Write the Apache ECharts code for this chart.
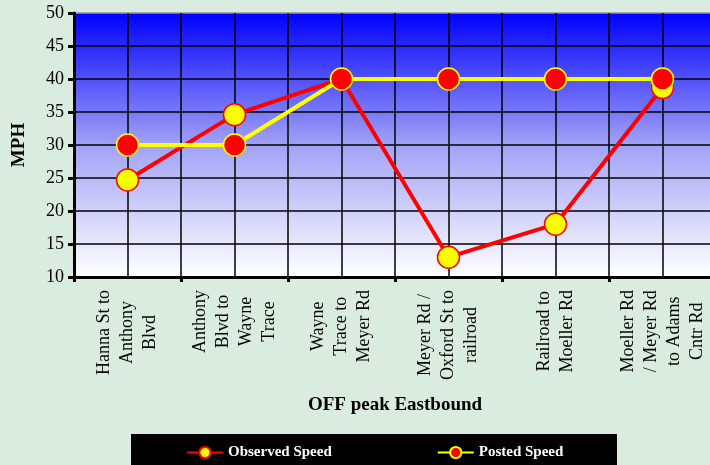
<!DOCTYPE html>
<html>
<head>
<meta charset="utf-8">
<script src="https://cdn.jsdelivr.net/npm/echarts@6/dist/echarts.min.js"></script>
<style>
  html, body { margin: 0; padding: 0; background: #d9ecdf; }
  #chart { width: 710px; height: 465px; }
</style>
</head>
<body>
<div id="chart"></div>
<script>
// segments along the route
const segments = [
  'Hanna St to\nAnthony\nBlvd',
  'Anthony\nBlvd to\nWayne\nTrace',
  'Wayne\nTrace to\nMeyer Rd',
  'Meyer Rd /\nOxford St to\nrailroad',
  'Railroad to\nMoeller Rd',
  'Moeller Rd\n/ Meyer Rd\nto Adams\nCntr Rd'
];
const observedSpeed = [24.7, 34.6, 40, 13, 18, 38.7];
const postedSpeed = [30, 30, 40, 40, 40, 40];

const serif = '"Liberation Serif", "DejaVu Serif", serif';
const chart = echarts.init(document.getElementById('chart'));

// top grid line is grey, others black
const hLineColors = ['#000', '#000', '#000', '#000', '#000', '#000', '#000', '#000', '#999'];

const option = {
  animation: false,
  backgroundColor: '#d9ecdf',
  grid: {
    left: 74, top: 13, right: -6, bottom: 188,
    outerBoundsMode: 'none',
    containLabel: false,
    show: true,
    borderWidth: 0,
    backgroundColor: new echarts.graphic.LinearGradient(0, 0, 0, 1, [
      { offset: 0, color: '#0000ff' },
      { offset: 0.5, color: '#a2a2f7' },
      { offset: 1, color: '#ffffff' }
    ])
  },
  graphic: [{
    type: 'rect', left: 131, top: 434, z: 0,
    shape: { width: 486, height: 40 },
    style: { fill: '#000' }
  }],
  legend: {
    left: 186, top: 445, z: 10,
    padding: 0,
    itemGap: 105,
    itemWidth: 36, itemHeight: 14,
    textStyle: { color: '#fff', fontFamily: serif, fontWeight: 'bold', fontSize: 15 },
    data: ['Observed Speed', 'Posted Speed']
  },
  xAxis: [{
    type: 'category',
    data: segments,
    boundaryGap: true,
    name: 'OFF peak Eastbound',
    nameLocation: 'middle',
    nameGap: 119,
    nameTextStyle: { fontFamily: serif, fontWeight: 'bold', fontSize: 19, color: '#000' },
    axisLine: { lineStyle: { color: '#000', width: 3 } },
    axisTick: { show: true, length: 5, lineStyle: { color: '#000', width: 3 } },
    splitLine: { show: false },
    axisLabel: {
      interval: 0,
      rotate: 90,
      margin: 13,
      formatter: v => v.split('\n').map(s => '{c|' + s + '}').join('\n'),
      rich: {
        c: { align: 'center', fontFamily: serif, fontSize: 18, lineHeight: 23, color: '#000' }
      }
    }
  }, {
    // only used for the vertical grid lines (boundaries and centres)
    type: 'value',
    min: 0, max: 12, interval: 1,
    position: 'top',
    axisLine: { show: false },
    axisTick: { show: false },
    axisLabel: { show: false },
    splitLine: { show: true, lineStyle: { color: '#000', width: 1.5 } }
  }],
  yAxis: {
    type: 'value',
    min: 10, max: 50, interval: 5,
    name: 'MPH',
    nameLocation: 'middle',
    nameGap: 45,
    nameTextStyle: { fontFamily: serif, fontWeight: 'bold', fontSize: 19, color: '#000' },
    axisLine: { show: true, lineStyle: { color: '#000', width: 3 } },
    axisTick: { show: true, length: 6, lineStyle: { color: '#000', width: 3 } },
    axisLabel: { margin: 10, fontFamily: serif, fontSize: 18, color: '#000' },
    splitLine: { show: true, lineStyle: { color: hLineColors, width: 1.5 } }
  },
  series: [{
    name: 'Observed Speed',
    type: 'line',
    data: observedSpeed,
    symbol: 'circle',
    symbolSize: 22,
    lineStyle: { color: '#ff0000', width: 4 },
    itemStyle: { color: '#ffff00', borderColor: '#ff0000', borderWidth: 1.5 },
    z: 3
  }, {
    name: 'Posted Speed',
    type: 'line',
    data: postedSpeed,
    symbol: 'circle',
    symbolSize: 22,
    lineStyle: { color: '#ffff00', width: 4 },
    itemStyle: { color: '#ff0000', borderColor: '#ffff00', borderWidth: 1.5 },
    z: 4
  }]
};

chart.setOption(option);
</script>
</body>
</html>
